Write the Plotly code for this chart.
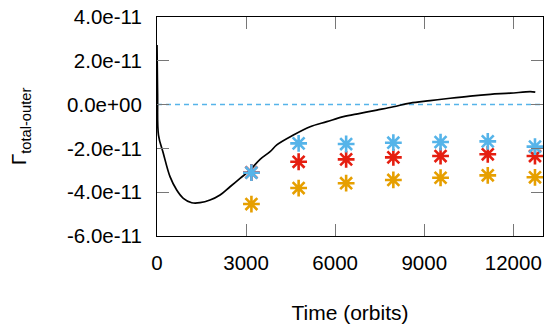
import plotly.graph_objects as go

# Black curve: total-outer torque vs time
curve_t = [0, 20, 50, 212, 438, 663, 886, 1168, 1449, 1786, 2123, 2460, 2797, 3134,
           3471, 3808, 4034, 4593, 5156, 5719, 6278, 6841, 7404, 7963, 8526, 9200,
           9874, 10548, 11222, 11896, 12570, 12740]
curve_v = [2.72e-11, 0.5e-11, -1.39e-11, -2.22e-11, -3.29e-11, -3.90e-11, -4.28e-11,
           -4.48e-11, -4.48e-11, -4.36e-11, -4.13e-11, -3.75e-11, -3.37e-11, -2.99e-11,
           -2.50e-11, -2.15e-11, -1.84e-11, -1.39e-11, -1.01e-11, -0.78e-11, -0.55e-11,
           -0.40e-11, -0.25e-11, -0.10e-11, 0.07e-11, 0.18e-11, 0.29e-11, 0.39e-11,
           0.47e-11, 0.52e-11, 0.59e-11, 0.57e-11]

# Marker series
marker_t = [3180, 4770, 6370, 7960, 9550, 11140, 12730]
orange_v = [-4.54e-11, -3.81e-11, -3.59e-11, -3.44e-11, -3.34e-11, -3.23e-11, -3.32e-11]
red_v = [-3.10e-11, -2.61e-11, -2.50e-11, -2.41e-11, -2.35e-11, -2.27e-11, -2.35e-11]
blue_v = [-3.11e-11, -1.77e-11, -1.80e-11, -1.74e-11, -1.71e-11, -1.68e-11, -1.92e-11]

x_ticks = [0, 3000, 6000, 9000, 12000]
y_ticks = [4e-11, 2e-11, 0, -2e-11, -4e-11, -6e-11]
y_labels = ["4.0e-11", "2.0e-11", "0.0e+00", "-2.0e-11", "-4.0e-11", "-6.0e-11"]

fig = go.Figure()
fig.add_shape(type="line", xref="paper", x0=0, x1=1, yref="y", y0=0, y1=0,
              line=dict(color="#56B4E9", width=1.5, dash="5px,4px"), layer="below")
fig.add_trace(go.Scatter(x=curve_t, y=curve_v, mode="lines", line_shape="spline",
                         line=dict(color="black", width=1.7), showlegend=False))
for vals, col in [(orange_v, "#E69F00"), (red_v, "#E51E10"), (blue_v, "#56B4E9")]:
    fig.add_trace(go.Scatter(x=marker_t, y=vals, mode="markers", showlegend=False,
                             marker=dict(symbol="asterisk-open", size=14, color=col,
                                         line=dict(color=col, width=2.6))))

font = dict(family="Liberation Sans, Arial, sans-serif", size=20.5, color="black")
fig.update_layout(
    width=547, height=324, margin=dict(l=157, r=4, t=17, b=88),
    paper_bgcolor="white", plot_bgcolor="white", font=font,
    xaxis=dict(range=[0, 13000], tickvals=x_ticks, ticktext=[str(v) for v in x_ticks],
               ticks="inside", ticklen=12, tickcolor="#777", tickwidth=1,
               showline=True, linecolor="black", linewidth=1.2, mirror="allticks",
               showgrid=False, zeroline=False, ticklabelstandoff=8, automargin=False,
               title=dict(text="Time (orbits)", standoff=41, font=dict(size=21))),
    yaxis=dict(range=[-6e-11, 4e-11], tickvals=y_ticks, ticktext=y_labels,
               ticks="inside", ticklen=12, tickcolor="#777", tickwidth=1,
               showline=True, linecolor="black", linewidth=1.2, mirror="allticks",
               showgrid=False, zeroline=False, ticklabelstandoff=10, automargin=False,
               title=dict(text="Γ<sub>total-outer</sub>", standoff=34,
                          font=dict(size=21))),
)
fig.write_html("out.html", config={"displayModeBar": False},
               post_script="document.body.style.margin='0';document.body.style.overflow='hidden';")
